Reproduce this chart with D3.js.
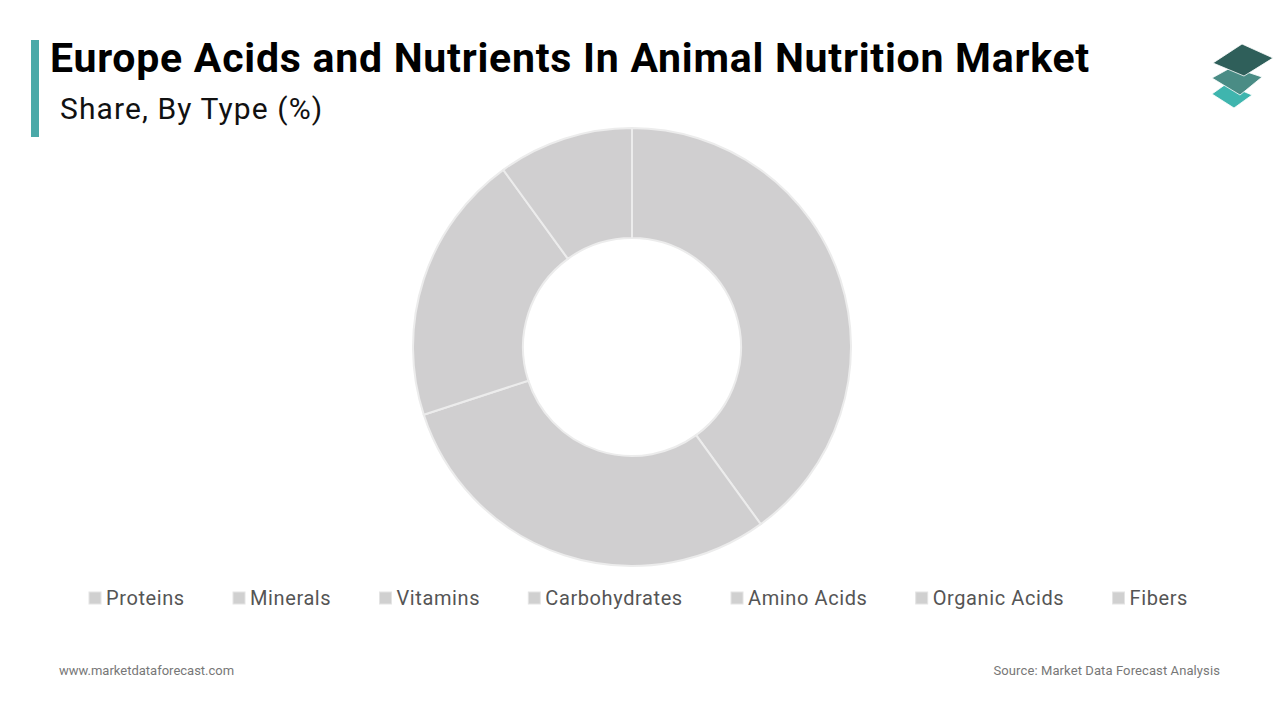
<!DOCTYPE html>
<html>
<head>
<meta charset="utf-8">
<script src="https://cdn.jsdelivr.net/npm/d3@7"></script>
<style>
    body { margin: 0; background: #fff; }
    svg { display: block; font-family: Roboto, "Noto Sans", sans-serif; }
</style>
</head>
<body>
<div id="chart"></div>
<script>
// chart data
const categories = ["Proteins", "Minerals", "Vitamins", "Carbohydrates", "Amino Acids", "Organic Acids", "Fibers"];
const shares = [40, 30, 20, 10, 0, 0, 0];
const sliceColor = "#d0cfd0";

const width = 1280, height = 720;

const svg = d3.select("#chart").append("svg")
    .attr("width", width)
    .attr("height", height);

// header
svg.append("rect")
    .attr("x", 31).attr("y", 40)
    .attr("width", 8).attr("height", 97)
    .attr("fill", "#4aa9a8");

svg.append("text")
    .attr("x", 50).attr("y", 72)
    .attr("font-size", 41).attr("font-weight", 700)
    .attr("letter-spacing", 0.75)
    .attr("fill", "#000")
    .text("Europe Acids and Nutrients In Animal Nutrition Market");

svg.append("text")
    .attr("x", 60).attr("y", 119)
    .attr("font-size", 30)
    .attr("letter-spacing", 1.1)
    .attr("fill", "#111")
    .text("Share, By Type (%)");

// logo: stacked tiles
const tiles = [
    ["#3fb5ae", "1212,94 1226,84 1252,95 1234,108"],
    ["#4a8c85", "1212,78 1232,67 1262,77 1240,95"],
    ["#2f5f5a", "1213,63 1242,44 1273,58 1244,76"]
];
svg.append("g").selectAll("polygon")
    .data(tiles)
    .enter()
    .append("polygon")
    .attr("points", d => d[1])
    .attr("fill", d => d[0])
    .attr("stroke", "#fff")
    .attr("stroke-width", 0.8)
    .attr("stroke-linejoin", "round");

// donut
const cx = 632, cy = 347;
const outerR = 219, innerR = 109;

const pie = d3.pie().sort(null).value(d => d);
const arc = d3.arc().innerRadius(innerR).outerRadius(outerR);

svg.append("g")
    .attr("transform", `translate(${cx},${cy})`)
    .selectAll("path")
    .data(pie(shares))
    .enter()
    .append("path")
    .attr("d", arc)
    .attr("fill", sliceColor)
    .attr("stroke", "#ececec")
    .attr("stroke-width", 2);

// legend
const legend = svg.append("g").attr("font-size", 20).attr("letter-spacing", 0.6).attr("fill", "#555");
const items = legend.selectAll("g")
    .data(categories)
    .enter()
    .append("g");

items.append("rect")
    .attr("width", 12).attr("height", 12)
    .attr("y", -6)
    .attr("fill", "#d0d0d0")
    .attr("stroke", "#e4e4e4");

items.append("text")
    .attr("x", 17)
    .attr("dy", "0.35em")
    .text(d => d);

let widths = [];
items.each(function () { widths.push(this.getBBox().width); });
let left = 89, right = 1188;
let gap = (right - left - d3.sum(widths)) / (widths.length - 1);
let xPos = left;
items.attr("transform", (d, i) => {
    let t = `translate(${xPos},598)`;
    xPos += widths[i] + gap;
    return t;
});

// footer
svg.append("text")
    .attr("x", 59).attr("y", 675)
    .attr("font-size", 13).attr("fill", "#777")
    .text("www.marketdataforecast.com");

svg.append("text")
    .attr("x", 1220).attr("y", 675)
    .attr("text-anchor", "end")
    .attr("font-size", 13).attr("letter-spacing", 0.1).attr("fill", "#777")
    .text("Source: Market Data Forecast Analysis");
</script>
</body>
</html>
